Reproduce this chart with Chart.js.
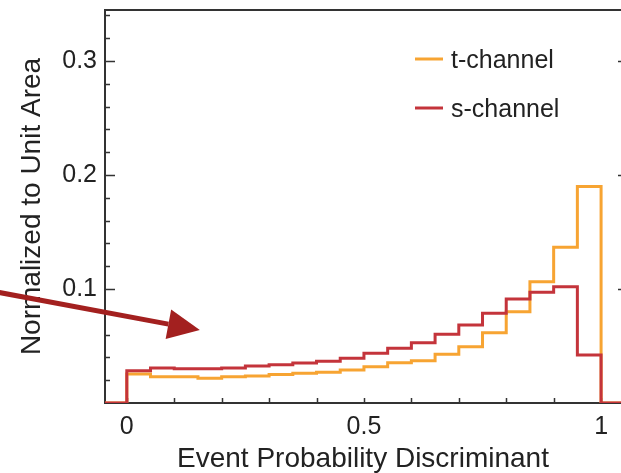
<!DOCTYPE html>
<html>
<head>
<meta charset="utf-8">
<script src="https://cdn.jsdelivr.net/npm/chart.js@4.4.1/dist/chart.umd.min.js"></script>
<style>
  html, body { margin: 0; padding: 0; background: #fff; overflow: hidden; }
  #wrap { width: 621px; height: 473px; }
</style>
</head>
<body>
<div id="wrap"><canvas id="histChart" width="621" height="473"></canvas></div>
<script>
// bin left edges (width 0.05) and normalized bin contents
const binEdges = [0, 0.05, 0.1, 0.15, 0.2, 0.25, 0.3, 0.35, 0.4, 0.45,
                  0.5, 0.55, 0.6, 0.65, 0.7, 0.75, 0.8, 0.85, 0.9, 0.95];
const tChannel = [0.0254, 0.0230, 0.0230, 0.0217, 0.0230, 0.0237, 0.0251, 0.0260, 0.0269, 0.0290,
                  0.0319, 0.0354, 0.0371, 0.0427, 0.0494, 0.0617, 0.0800, 0.1064, 0.1366, 0.1898];
const sChannel = [0.0283, 0.0307, 0.0300, 0.0300, 0.0307, 0.0325, 0.0336, 0.0350, 0.0366, 0.0392,
                  0.0436, 0.0480, 0.0529, 0.0602, 0.0684, 0.0787, 0.0912, 0.0971, 0.1020, 0.0421];
const seriesNames = ['t-channel', 's-channel'];
const xTickLabels = [0, 0.5, 1];
const yTickLabels = [0.1, 0.2, 0.3];

const X_MIN = -0.046, X_MAX = 1.042, Y_MIN = 0, Y_MAX = 0.3447;
const ORANGE = '#f7a432', RED = '#c4343b';
const FONT = '"Liberation Sans", Arial, sans-serif';

function stepPoints(vals) {
  const pts = [{x: X_MIN, y: 0}];
  binEdges.forEach((e, i) => pts.push({x: e, y: vals[i]}));
  pts.push({x: 1, y: 0});
  pts.push({x: X_MAX, y: 0});
  return pts;
}

// annotation arrow, in data units
const arrow = {from: [-0.27, 0.097], to: [0.154, 0.064]};

const framePlugin = {
  id: 'frame',
  beforeDatasetsDraw(chart) {
    const {ctx, chartArea: a, scales: {x, y}} = chart;
    ctx.save();
    ctx.strokeStyle = '#333';
    ctx.lineWidth = 2;
    ctx.strokeRect(a.left, a.top, a.right - a.left + 5, a.bottom - a.top);
    ctx.lineWidth = 1.5;
    ctx.beginPath();
    for (let v = 0.02; v < Y_MAX; v += 0.02) {
      const major = Math.abs(v * 10 - Math.round(v * 10)) < 1e-6;
      const py = Math.round(y.getPixelForValue(v)) + 0.5;
      ctx.moveTo(a.left, py); ctx.lineTo(a.left + (major ? 10 : 5), py);
      if (major) { ctx.moveTo(a.right, py); ctx.lineTo(a.right - 3, py); }
    }
    for (let v = 0; v <= 1.0001; v += 0.1) {
      const px = Math.round(x.getPixelForValue(v)) + 0.5;
      ctx.moveTo(px, a.bottom); ctx.lineTo(px, a.bottom - 5);
    }
    ctx.stroke();
    ctx.restore();
  },
  afterDraw(chart) {
    const {ctx, scales: {x, y}} = chart;
    ctx.save();
    // legend
    ctx.font = '25px ' + FONT;
    ctx.textBaseline = 'middle';
    ctx.fillStyle = '#222';
    chart.data.datasets.slice().reverse().forEach((ds, i) => {
      const ly = 59 + i * 49;
      ctx.strokeStyle = ds.borderColor;
      ctx.lineWidth = 3;
      ctx.beginPath(); ctx.moveTo(415, ly); ctx.lineTo(443, ly); ctx.stroke();
      ctx.fillText(ds.label, 451, ly + 2);
    });

    // arrow
    const x0 = x.getPixelForValue(arrow.from[0]), y0 = y.getPixelForValue(arrow.from[1]);
    const x1 = x.getPixelForValue(arrow.to[0]), y1 = y.getPixelForValue(arrow.to[1]);
    const ang = Math.atan2(y1 - y0, x1 - x0);
    const hl = 32, hw = 15;
    const bx = x1 - hl * Math.cos(ang), by = y1 - hl * Math.sin(ang);
    ctx.strokeStyle = '#a3201f';
    ctx.fillStyle = '#a3201f';
    ctx.lineWidth = 5;
    ctx.beginPath(); ctx.moveTo(x0, y0); ctx.lineTo(bx, by); ctx.stroke();
    ctx.beginPath();
    ctx.moveTo(x1, y1);
    ctx.lineTo(bx + hw * Math.sin(ang), by - hw * Math.cos(ang));
    ctx.lineTo(bx - hw * Math.sin(ang), by + hw * Math.cos(ang));
    ctx.closePath(); ctx.fill();
    ctx.restore();
  }
};

new Chart(document.getElementById('histChart'), {
  type: 'line',
  data: {
    datasets: [{
      label: seriesNames[1],
      data: stepPoints(sChannel),
      borderColor: RED,
      borderWidth: 3,
      stepped: 'before',
      pointRadius: 0
    }, {
      label: seriesNames[0],
      data: stepPoints(tChannel),
      borderColor: ORANGE,
      borderWidth: 3,
      stepped: 'before',
      pointRadius: 0
    }]
  },
  options: {
    responsive: false,
    animation: false,
    layout: { padding: { top: 10, right: 0, left: 0, bottom: 0 } },
    plugins: {
      legend: { display: false },
      tooltip: { enabled: false }
    },
    scales: {
      x: {
        type: 'linear',
        min: X_MIN,
        max: X_MAX,
        afterFit: (s) => { s.height = 70; s.paddingLeft = 0; s.paddingRight = 0; },
        afterBuildTicks: (s) => { s.ticks = xTickLabels.map(v => ({value: v})); },
        grid: { display: false, drawTicks: false },
        border: { display: false },
        ticks: {
          font: { size: 25, family: FONT },
          color: '#222',
          padding: 9,
          maxRotation: 0,
          callback: (v) => String(v)
        },
        title: {
          display: true,
          text: 'Event Probability Discriminant',
          font: { size: 28, family: FONT },
          color: '#222',
          padding: { top: 0, bottom: -3 }
        }
      },
      y: {
        min: Y_MIN,
        max: Y_MAX,
        afterFit: (s) => { s.width = 105; s.paddingTop = 0; s.paddingBottom = 0; },
        afterBuildTicks: (s) => { s.ticks = yTickLabels.map(v => ({value: v})); },
        grid: { display: false, drawTicks: false },
        border: { display: false },
        ticks: {
          font: { size: 25, family: FONT },
          color: '#222',
          padding: 8,
          callback: (v) => String(v)
        },
        title: {
          display: true,
          text: 'Normalized to Unit Area',
          font: { size: 28, family: FONT },
          color: '#222',
          padding: { top: 15, bottom: 0 }
        }
      }
    }
  },
  plugins: [framePlugin]
});
</script>
</body>
</html>
